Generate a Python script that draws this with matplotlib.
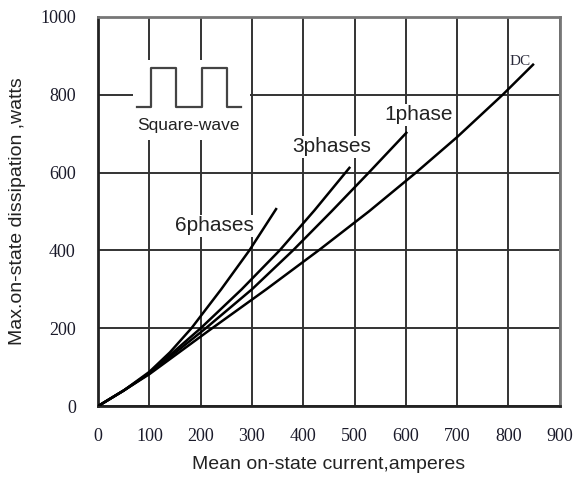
import matplotlib.pyplot as plt
from matplotlib.patches import Rectangle

# Curve readings (mean on-state current in A, dissipation in W)
dc_x = [0, 50, 100, 215, 328, 432, 528, 620, 700, 789, 848]
dc_y = [0, 40, 82, 193, 300, 402, 500, 600, 691, 800, 877]

ph1_x = [0, 50, 100, 210, 300, 380, 455, 528, 601]
ph1_y = [0, 40, 84, 200, 300, 400, 500, 600, 702]

ph3_x = [0, 50, 100, 200, 280, 354, 422, 490]
ph3_y = [0, 40, 85, 200, 300, 400, 503, 612]

ph6_x = [0, 50, 100, 140, 182, 240, 295, 347]
ph6_y = [0, 40, 88, 138, 200, 300, 400, 506]

# little square-wave sketch in the upper left
wave_x = [75, 103, 103, 152, 152, 202, 202, 251, 251, 278]
wave_y = [769, 769, 868, 868, 769, 769, 868, 868, 769, 769]

x_ticks = [0, 100, 200, 300, 400, 500, 600, 700, 800, 900]
y_ticks = [0, 200, 400, 600, 800, 1000]

fig = plt.figure(figsize=(5.77, 4.8), dpi=100)
ax = fig.add_axes([0.170, 0.154, 0.800, 0.811])

ax.set_xlim(0, 900)
ax.set_ylim(0, 1000)
ax.set_xticks(x_ticks)
ax.set_yticks(y_ticks)
ax.grid(True, color='#333333', linewidth=1.4, zorder=1)
ax.set_axisbelow(True)
ax.tick_params(length=0, pad=16, labelsize=13, labelcolor='#1a1a2a')
for lab in ax.get_xticklabels() + ax.get_yticklabels():
    lab.set_fontfamily('Liberation Serif')

ax.spines['left'].set_color('#222222')
ax.spines['bottom'].set_color('#222222')
ax.spines['top'].set_color('#777777')
ax.spines['right'].set_color('#777777')
for s in ax.spines.values():
    s.set_linewidth(2)

# curves
for xs, ys in [(dc_x, dc_y), (ph1_x, ph1_y), (ph3_x, ph3_y), (ph6_x, ph6_y)]:
    ax.plot(xs, ys, color='black', linewidth=1.8, zorder=4)

# square wave inset
ax.add_patch(Rectangle((68, 684), 228, 206, facecolor='white', edgecolor='none', zorder=2))
ax.plot(wave_x, wave_y, color='#444444', linewidth=1.6, zorder=3)
ax.text(176, 722, 'Square-wave', ha='center', va='center', fontsize=12.5,
        family='Liberation Sans', color='#222222', zorder=3)

box = dict(facecolor='white', edgecolor='none', pad=1)
ax.text(227, 463, '6phases', ha='center', va='center', fontsize=15,
        family='Liberation Sans', color='#222222', bbox=box, zorder=3)
ax.text(456, 666, '3phases', ha='center', va='center', fontsize=15,
        family='Liberation Sans', color='#222222', bbox=box, zorder=3)
ax.text(624, 748, '1phase', ha='center', va='center', fontsize=15,
        family='Liberation Sans', color='#222222', bbox=box, zorder=3)
ax.text(823, 884, 'DC', ha='center', va='center', fontsize=11,
        family='Liberation Serif', color='#2a2a3a', zorder=3)

ax.set_xlabel('Mean on-state current,amperes', fontsize=14,
              family='Liberation Sans', color='#222222', labelpad=8)
ax.set_ylabel('Max.on-state dissipation ,watts', fontsize=14,
              family='Liberation Sans', color='#222222', labelpad=10)

fig.savefig('out.png', dpi=100)
